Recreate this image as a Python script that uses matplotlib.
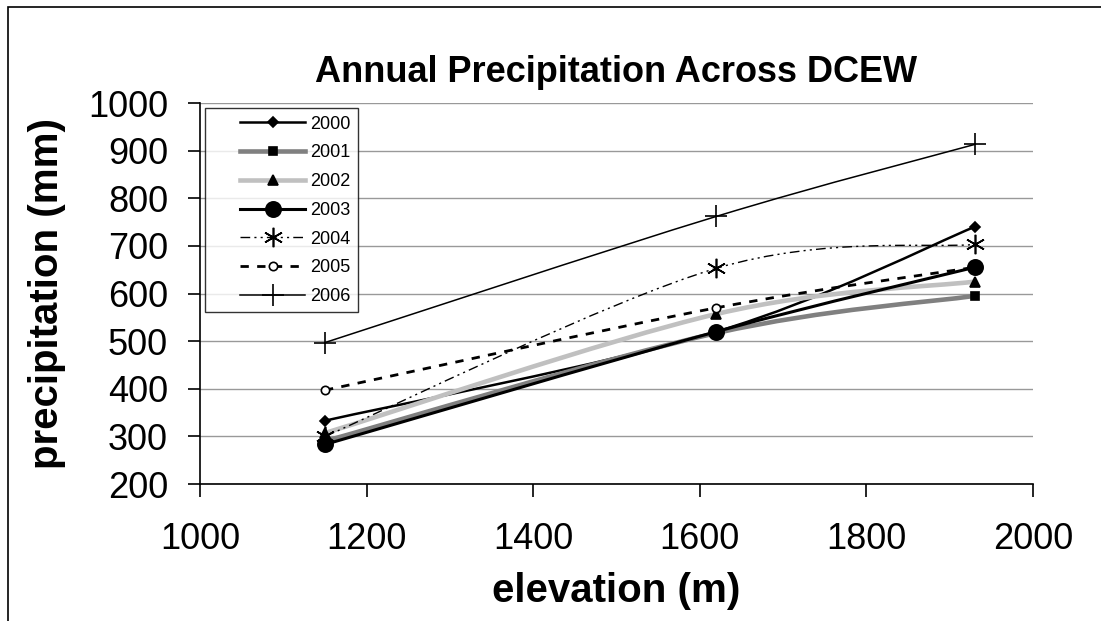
import numpy as np
import matplotlib.pyplot as plt
from matplotlib.path import Path
from matplotlib.patches import PathPatch, Rectangle
from matplotlib.lines import Line2D
from matplotlib.legend_handler import HandlerLine2D

plt.rcParams['font.family'] = ['Liberation Sans', 'DejaVu Sans']

# Data
elevation = [1150, 1620, 1930]
years = ['2000', '2001', '2002', '2003', '2004', '2005', '2006']
p2000 = [333, 520, 740]
p2001 = [290, 517, 595]
p2002 = [307, 557, 625]
p2003 = [283, 520, 655]
p2004 = [300, 653, 703]
p2005 = [397, 570, 655]
p2006 = [497, 762, 913]
series = [p2000, p2001, p2002, p2003, p2004, p2005, p2006]

# line style per year
styles = [
    dict(color='black', lw=1.8, ls='-', marker='D', ms=5, mfc='black', z=4),
    dict(color='#808080', lw=3.3, ls='-', marker='s', ms=6, mfc='black', z=4),
    dict(color='#c0c0c0', lw=3.3, ls='-', marker='^', ms=7, mfc='black', z=4),
    dict(color='black', lw=2.2, ls='-', marker='o', ms=11, mfc='black', z=6),
    dict(color='black', lw=1.0, ls=(0, (7, 3, 1.5, 3, 1.5, 3)), marker=(6, 2, 0), ms=14, mfc='black', z=4),
    dict(color='black', lw=2.0, ls=(0, (3, 3)), marker='o', ms=6, mfc='white', z=4),
    dict(color='black', lw=1.1, ls='-', marker='+', ms=16, mfc='black', z=4),
]


def smooth_path(xs, ys):
    # Excel-style smoothed line: cubic bezier through the points
    pts = np.column_stack([xs, ys]).astype(float)
    n = len(pts)
    verts = [pts[0]]
    codes = [Path.MOVETO]
    for i in range(n - 1):
        p0 = pts[max(i - 1, 0)]
        p1 = pts[i]
        p2 = pts[i + 1]
        p3 = pts[min(i + 2, n - 1)]
        verts += [p1 + (p2 - p0) / 6.0, p2 - (p3 - p1) / 6.0, p2]
        codes += [Path.CURVE4] * 3
    return Path(verts, codes)


class ShiftedLine(HandlerLine2D):
    # leaves empty room on the left of each legend key, like Excel
    def create_artists(self, legend, orig_handle, xdescent, ydescent, width, height, fontsize, trans):
        shift = 20
        return super().create_artists(legend, orig_handle, xdescent - shift, ydescent,
                                      width - shift, height, fontsize, trans)


fig = plt.figure(figsize=(11.01, 6.21), dpi=100)
fig.patches.append(Rectangle((0.007, -0.1), 1.2, 1.088, transform=fig.transFigure,
                             fill=False, edgecolor='black', lw=1.2))
ax = fig.add_axes([0.1817, 0.2206, 0.7565, 0.6135])

handles = []
for yr, vals, st in zip(years, series, styles):
    patch = PathPatch(smooth_path(elevation, vals), fill=False, edgecolor=st['color'],
                      lw=st['lw'], linestyle=st['ls'], zorder=3)
    ax.add_patch(patch)
    ax.plot(elevation, vals, linestyle='none', marker=st['marker'], ms=st['ms'],
            mfc=st['mfc'], mec='black', mew=1.2, zorder=st['z'])
    handles.append(Line2D([], [], color=st['color'], lw=st['lw'], linestyle=st['ls'],
                          marker=st['marker'], ms=st['ms'], mfc=st['mfc'],
                          mec='black', mew=1.2))

ax.set_xlim(1000, 2000)
ax.set_ylim(200, 1000)
ax.set_xticks(np.arange(1000, 2001, 200))
ax.set_yticks(np.arange(200, 1001, 100))
ax.grid(axis='y', color='#999999', lw=1)
ax.set_axisbelow(True)
for s in ['top', 'right']:
    ax.spines[s].set_visible(False)
ax.spines['left'].set_linewidth(1.2)
ax.spines['bottom'].set_linewidth(1.2)
ax.tick_params(labelsize=26, direction='out', length=9, width=1.2)
ax.tick_params(axis='y', pad=14)
ax.tick_params(axis='x', pad=18)

ax.set_title('Annual Precipitation Across DCEW', fontsize=26, fontweight='bold', pad=15)
ax.set_xlabel('elevation (m)', fontsize=29, fontweight='bold', labelpad=11)
ax.set_ylabel('precipitation (mm)', fontsize=29, fontweight='bold', labelpad=16)

leg = ax.legend(handles, years, loc='upper left', fontsize=13, frameon=True, fancybox=False,
                edgecolor='black', handlelength=5.1, handletextpad=0.3, borderpad=0.4,
                borderaxespad=0.3, labelspacing=0.65,
                handler_map={Line2D: ShiftedLine()})
leg.get_frame().set_linewidth(1)

plt.savefig('out.png', dpi=100)
